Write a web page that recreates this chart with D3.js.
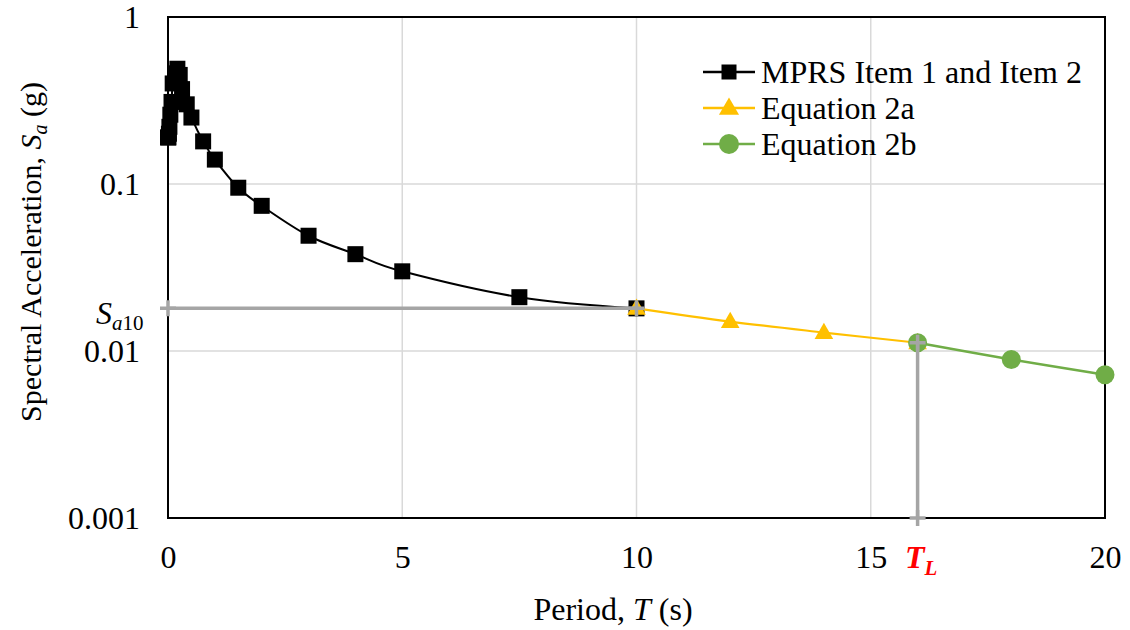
<!DOCTYPE html>
<html><head><meta charset="utf-8">
<script src="https://cdn.jsdelivr.net/npm/d3@7"></script>
<style>
html,body{margin:0;padding:0;background:#fff;}
svg{display:block;font-family:"Liberation Serif","Times New Roman",serif;}
</style></head>
<body><svg id="c" width="1130" height="630"></svg>
<script>
// ---- data ----
const mprsT  = [0, 0.01, 0.02, 0.03, 0.05, 0.075, 0.1, 0.15, 0.2, 0.25, 0.3, 0.4, 0.5, 0.75, 1, 1.5, 2, 3, 4, 5, 7.5, 10];
const mprsSa = [0.19, 0.19, 0.2, 0.22, 0.26, 0.31, 0.40, 0.46, 0.49, 0.45, 0.37, 0.30, 0.25, 0.18, 0.14, 0.095, 0.074, 0.049, 0.038, 0.030, 0.021, 0.018];
const eq2aT  = [10, 12, 14, 16];
const eq2aSa = [0.018, 0.015, 0.0129, 0.0112];
const eq2bT  = [16, 18, 20];
const eq2bSa = [0.0112, 0.0089, 0.0072];
const refHT  = [0, 10];
const refHSa = [0.018, 0.018];
const refVT  = [16, 16];
const refVSa = [0.0112, 0.001];
const xTicks = [0, 5, 10, 15, 20];
const yTicks = [0.001, 0.01, 0.1, 1];
const yTickLabels = ["0.001", "0.01", "0.1", "1"];
const legendLabels = ["MPRS Item 1 and Item 2", "Equation 2a", "Equation 2b"];

// ---- layout ----
const svg = d3.select("#c");
const L = 168, R = 1105, T = 17, B = 518;
const x = d3.scaleLinear().domain([0, 20]).range([L, R]);
const y = d3.scaleLog().domain([0.001, 1]).range([B, T]);
const zip = (a, b) => a.map((v, i) => [v, b[i]]);

// gridlines
svg.append("g").selectAll("line").data([0.01, 0.1]).join("line")
  .attr("x1", L).attr("x2", R).attr("y1", d => y(d)).attr("y2", d => y(d))
  .attr("stroke", "#d9d9d9").attr("stroke-width", 1.5);
svg.append("g").selectAll("line").data([5, 10, 15]).join("line")
  .attr("y1", T).attr("y2", B).attr("x1", d => x(d)).attr("x2", d => x(d))
  .attr("stroke", "#d9d9d9").attr("stroke-width", 1.5);

// axes (labels only)
const xa = svg.append("g").attr("transform", `translate(0,${B})`)
  .call(d3.axisBottom(x).tickValues(xTicks).tickSize(0).tickPadding(27).tickFormat(d3.format("d")));
const ya = svg.append("g").attr("transform", `translate(${L},0)`)
  .call(d3.axisLeft(y).tickValues(yTicks).tickSize(0).tickPadding(28).tickFormat((d, i) => yTickLabels[i]));
[xa, ya].forEach(g => {
  g.select(".domain").remove();
  g.selectAll("text").attr("font-family", "Liberation Serif").attr("font-size", 32).attr("fill", "#000");
});

// plot border
svg.append("rect").attr("x", L).attr("y", T).attr("width", R - L).attr("height", B - T)
  .attr("fill", "none").attr("stroke", "#000").attr("stroke-width", 2);

const line = d3.line().x(d => x(d[0])).y(d => y(d[1])).curve(d3.curveCardinal.tension(0));
const lineStraight = d3.line().x(d => x(d[0])).y(d => y(d[1]));

// MPRS
const mprs = zip(mprsT, mprsSa);
svg.append("path").datum(mprs).attr("d", line).attr("fill", "none").attr("stroke", "#000").attr("stroke-width", 2);
svg.append("g").selectAll("rect").data(mprs).join("rect")
  .attr("x", d => x(d[0]) - 8).attr("y", d => y(d[1]) - 8).attr("width", 16).attr("height", 16).attr("fill", "#000");

// Eq 2a
const tri = d3.symbol().type(d3.symbolTriangle).size(150);
const e2a = zip(eq2aT, eq2aSa);
svg.append("path").datum(e2a).attr("d", line).attr("fill", "none").attr("stroke", "#ffc000").attr("stroke-width", 2.2);
svg.append("g").selectAll("path").data(e2a).join("path")
  .attr("d", tri).attr("transform", d => `translate(${x(d[0])},${y(d[1]) + 1})`).attr("fill", "#ffc000");

// Eq 2b
const e2b = zip(eq2bT, eq2bSa);
svg.append("path").datum(e2b).attr("d", line).attr("fill", "none").attr("stroke", "#70ad47").attr("stroke-width", 2.5);
svg.append("g").selectAll("circle").data(e2b).join("circle")
  .attr("cx", d => x(d[0])).attr("cy", d => y(d[1])).attr("r", 9.5).attr("fill", "#70ad47");

// reference lines
const plus = (g, pts) => g.selectAll("path.p").data(pts).join("path").attr("class", "p")
  .attr("d", d => `M${x(d[0]) - 8},${y(d[1])}H${x(d[0]) + 8}M${x(d[0])},${y(d[1]) - 8}V${y(d[1]) + 8}`)
  .attr("stroke", "#a5a5a5").attr("stroke-width", 3.5).attr("fill", "none");
[zip(refHT, refHSa), zip(refVT, refVSa)].forEach(pts => {
  const g = svg.append("g");
  g.append("path").datum(pts).attr("d", lineStraight).attr("fill", "none").attr("stroke", "#a5a5a5").attr("stroke-width", 3.5);
  plus(g, pts);
});

// Sa10 label
const sa = svg.append("text").attr("x", 96).attr("y", 324).attr("font-size", 32).attr("fill", "#000");
sa.append("tspan").attr("font-style", "italic").text("S");
sa.append("tspan").attr("font-style", "italic").attr("font-size", 21).attr("dy", 6).text("a");
sa.append("tspan").attr("font-size", 21).text("10");

// T_L label
const tl = svg.append("text").attr("x", 905).attr("y", 568).attr("font-size", 32).attr("fill", "#ff0000")
  .attr("font-weight", "bold").attr("font-style", "italic");
tl.append("tspan").text("T");
tl.append("tspan").attr("font-size", 21).attr("dy", 7).text("L");

// axis titles
const xt = svg.append("text").attr("x", 613).attr("y", 620).attr("text-anchor", "middle").attr("font-size", 32).attr("fill", "#000");
xt.append("tspan").text("Period, ");
xt.append("tspan").attr("font-style", "italic").text("T");
xt.append("tspan").text(" (s)");

const yt = svg.append("text").attr("transform", "translate(41,252) rotate(-90)").attr("text-anchor", "middle")
  .attr("font-size", 30).attr("fill", "#000");
yt.append("tspan").text("Spectral Acceleration, ");
yt.append("tspan").attr("font-style", "italic").text("S");
yt.append("tspan").attr("font-style", "italic").attr("font-size", 20).attr("dy", 6).text("a");
yt.append("tspan").attr("dy", -6).text(" (g)");

// legend
const lg = svg.append("g");
const rows = [72, 108, 144];
const colors = ["#000", "#ffc000", "#70ad47"];
legendLabels.forEach((lab, i) => {
  const cy = rows[i];
  lg.append("line").attr("x1", 703).attr("x2", 755).attr("y1", cy).attr("y2", cy)
    .attr("stroke", colors[i]).attr("stroke-width", 2.5);
  if (i === 0) lg.append("rect").attr("x", 721.5).attr("y", cy - 7.5).attr("width", 15).attr("height", 15).attr("fill", "#000");
  if (i === 1) lg.append("path").attr("d", d3.symbol().type(d3.symbolTriangle).size(175)).attr("transform", `translate(729,${cy + 1})`).attr("fill", colors[i]);
  if (i === 2) lg.append("circle").attr("cx", 729).attr("cy", cy).attr("r", 10).attr("fill", colors[i]);
  lg.append("text").attr("x", 761).attr("y", cy + 11).attr("font-size", 32).attr("fill", "#000").text(lab);
});
</script></body></html>
